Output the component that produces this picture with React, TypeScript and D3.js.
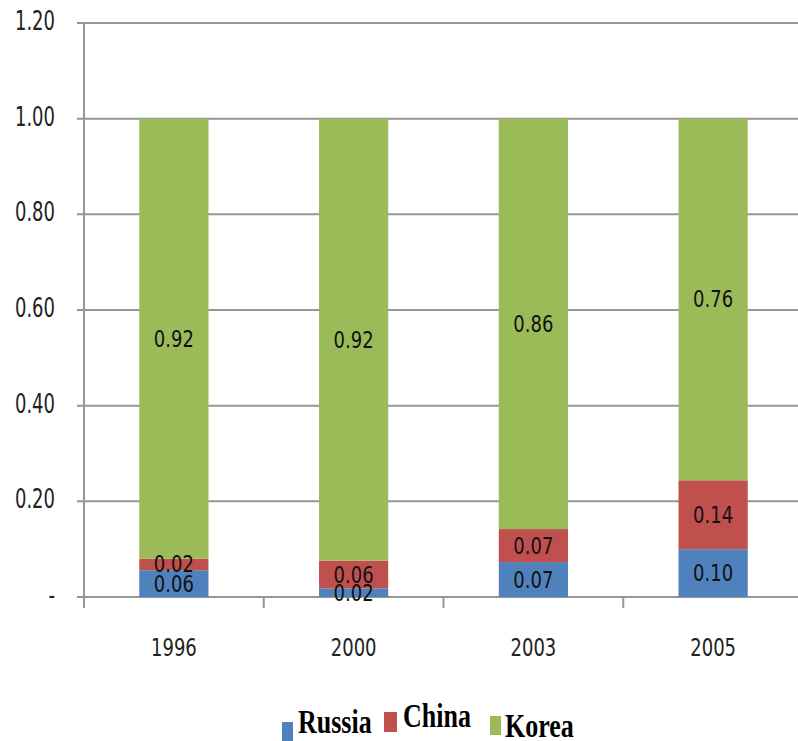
import React from "react";
import * as d3 from "d3";

const years = ["1996", "2000", "2003", "2005"];
const russia = [0.056, 0.018, 0.073, 0.1];
const china = [0.024, 0.058, 0.069, 0.144];
const korea = [0.92, 0.924, 0.858, 0.756];
const seriesNames = ["Russia", "China", "Korea"];
const seriesColors = ["#4F81BD", "#C0504D", "#9BBB59"];
const yTicks = [0, 0.2, 0.4, 0.6, 0.8, 1.0, 1.2];

const W = 798;
const H = 741;

export default function App() {
  const x = d3.scaleBand<string>().domain(years).range([84, 803]).paddingInner(0.615).paddingOuter(0.3075);
  const y = d3.scaleLinear().domain([0, 1.2]).range([597, 23]);
  const rows = years.map((yr, i) => ({ year: yr, Russia: russia[i], China: china[i], Korea: korea[i] }));
  const stack = d3.stack<any>().keys(seriesNames)(rows);
  const fmt = (v: number) => (v === 0 ? "-" : d3.format(".2f")(v));
  const legendLayout = [
    { mx: 282, my: 722, mw: 11, mh: 19, tx: 298, ty: 733 },
    { mx: 384, my: 712, mw: 13, mh: 20, tx: 403, ty: 727 },
    { mx: 490, my: 716, mw: 11, mh: 19, tx: 505, ty: 737 },
  ];
  const step = x.step();
  const boundaries = d3.range(years.length + 1).map((i) => 84 + i * step);

  return (
    <svg width={W} height={H} style={{ position: "absolute", left: 0, top: 0, background: "#fff" }}>
      <rect x={0} y={0} width={W} height={H} fill="#fff" />
      {yTicks.map((t) => (
        <g key={t}>
          <line x1={77} x2={W} y1={y(t)} y2={y(t)} stroke="#969696" strokeWidth={2} />
          <text
            transform={`translate(55,${y(t) + 7}) scale(1,1.45)`}
            textAnchor="end"
            fontFamily="DejaVu Sans"
            fontSize={18}
            fill="#222"
          >
            {fmt(t)}
          </text>
        </g>
      ))}
      <line x1={84} x2={84} y1={y(1.2)} y2={608} stroke="#969696" strokeWidth={2} />
      {boundaries.map((b, i) => (
        <line key={i} x1={b} x2={b} y1={597} y2={608} stroke="#969696" strokeWidth={2} />
      ))}
      {stack.map((s, si) => (
        <g key={seriesNames[si]}>
          {s.map((d, i) => (
            <rect
              key={i}
              x={x(years[i])}
              y={y(d[1])}
              width={x.bandwidth()}
              height={y(d[0]) - y(d[1])}
              fill={seriesColors[si]}
            />
          ))}
        </g>
      ))}
      {stack.map((s, si) => (
        <g key={"l" + seriesNames[si]}>
          {s.map((d, i) => (
            <text
              key={i}
              transform={`translate(${(x(years[i]) as number) + x.bandwidth() / 2},${(y(d[0]) + y(d[1])) / 2 + 8}) scale(1,1.25)`}
              textAnchor="middle"
              fontFamily="DejaVu Sans"
              fontSize={18}
              fill="#111"
            >
              {d3.format(".2f")(d[1] - d[0])}
            </text>
          ))}
        </g>
      ))}
      {years.map((yr) => (
        <text
          key={yr}
          transform={`translate(${(x(yr) as number) + x.bandwidth() / 2},656) scale(1,1.4)`}
          textAnchor="middle"
          fontFamily="DejaVu Sans"
          fontSize={18}
          fill="#222"
        >
          {yr}
        </text>
      ))}
      {seriesNames.map((n, i) => {
        const L = legendLayout[i];
        return (
          <g key={n}>
            <rect x={L.mx} y={L.my} width={L.mw} height={L.mh} fill={seriesColors[i]} />
            <text
              transform={`translate(${L.tx},${L.ty}) scale(1,1.3)`}
              fontFamily="Liberation Serif"
              fontWeight="bold"
              fontSize={26}
              fill="#000"
            >
              {n}
            </text>
          </g>
        );
      })}
    </svg>
  );
}
